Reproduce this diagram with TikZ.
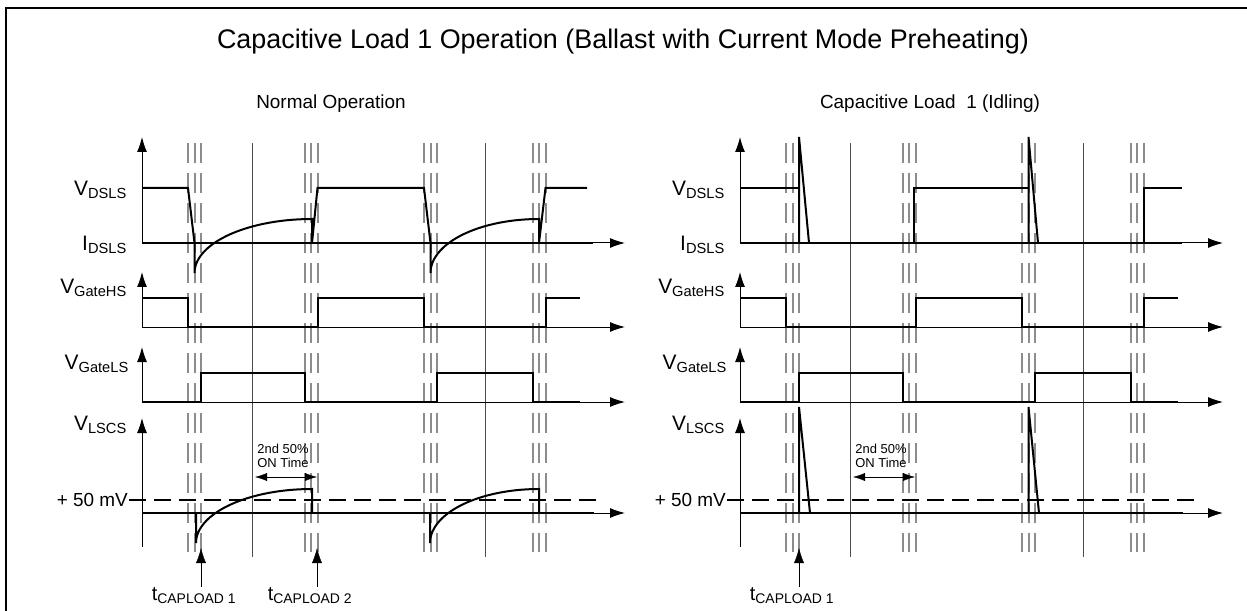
\documentclass[tikz,border=0pt]{standalone}
\usepackage{fontspec}
\setmainfont{Liberation Sans}
\usetikzlibrary{arrows.meta}
\begin{document}
\begin{tikzpicture}[x=1bp, y=-1bp, >={Latex[length=15bp,width=10bp]},
  sig/.style={line width=2bp},
  ax/.style={line width=1bp, ->},
  dead/.style={black!45, line width=2bp, dash pattern=on 20bp off 10bp},
  half/.style={black!70, line width=1bp},
  lvl/.style={line width=2bp, dash pattern=on 17bp off 8bp},
  lbl/.style={anchor=east, inner sep=1bp, font=\fontsize{21}{23}\selectfont},
  tlbl/.style={inner sep=1bp, font=\fontsize{20}{22}\selectfont},
  note/.style={align=center, inner sep=0pt, font=\fontsize{13}{14}\selectfont}]

\useasboundingbox (0,0) rectangle (1247,611);
\draw[line width=2bp] (6,611)--(6,8)--(1247,8);
\node[font=\fontsize{27}{29}\selectfont] (title) at (623,42) {Capacitive Load 1 Operation (Ballast with Current Mode Preheating)};
\node[font=\fontsize{19}{21}\selectfont] (normal) at (331,104) {Normal Operation};
\node[font=\fontsize{19}{21}\selectfont] (idling) at (930,104) {Capacitive Load\ \ 1 (Idling)};

\foreach \s/\n in {0/a,598/b}{
\begin{scope}[xshift=\s bp]
\foreach \xc in {194.5,311,430.5,539}
  \foreach \dx in {-6.5,0,6.5}
    \draw[dead] (\xc+\dx,143)--(\xc+\dx,552);
\foreach \xc in {252,485}
  \draw[half] (\xc,143)--(\xc,557);
\draw[ax] (142,243)--(142,137);
\draw[ax] (142,243)--(625,243);
\draw[ax] (142,327)--(142,272);
\draw[ax] (142,327)--(625,327);
\draw[ax] (142,402)--(142,347);
\draw[ax] (142,402)--(625,402);
\draw[ax] (142,547)--(142,418);
\draw[ax] (142,513)--(625,513);
\draw[sig] (142,298)--(188,298)--(188,327)--(317.5,327)--(317.5,298)--(424,298)--(424,327)--(545.5,327)--(545.5,298)--(580,298);
\draw[sig] (142,402)--(201,402)--(201,373)--(304.5,373)--(304.5,402)--(437,402)--(437,373)--(532.5,373)--(532.5,402)--(580,402);
\node[lbl] (vds\n) at (128,190) {V\textsubscript{DSLS}};
\node[lbl] (ids\n) at (128,245) {I\textsubscript{DSLS}};
\node[lbl] (vghs\n) at (128,288) {V\textsubscript{GateHS}};
\node[lbl] (vgls\n) at (130,364) {V\textsubscript{GateLS}};
\node[lbl] (vlscs\n) at (128,425) {V\textsubscript{LSCS}};
\node[lbl, font=\fontsize{19}{21}\selectfont] (mv\n) at (129,500) {+ 50 mV};
\draw[lvl] (mv\n.east)--++(467,0);
\node[note] (on\n) at (283,456) {2nd 50\%\\ON Time};
\coordinate (ona\n) at (255,477);
\coordinate (onb\n) at (317,477);
\draw[<->, >={Latex[length=12bp,width=8bp]}] (ona\n)--(onb\n);
\node[tlbl] (tca\n) at (194,596) {t\textsubscript{CAPLOAD 1}};
\coordinate (tpa\n) at (201,548);
\draw[->] (tca\n.north -| tpa\n)--(tpa\n);
\end{scope}}

\draw[sig] (142,243)--(593,243);
\draw[sig] (142,188)--(188,188)--(194.5,243)--(194.5,273)--plot[domain=0:90, samples=30] ({312-117.5*cos(\x)}, {273-54*sin(\x)})--(312,243)--(317.5,188)--(424,188)--(430.5,243)--(430.5,273)--plot[domain=0:90, samples=30] ({539-108.5*cos(\x)}, {273-54*sin(\x)})--(539,243)--(545.5,188)--(587,188);
\draw[sig] (142,513)--(594,513);
\draw[sig] (196,513)--(196,543)--plot[domain=0:90, samples=30] ({312-116*cos(\x)}, {543-54*sin(\x)})--(312,513);
\draw[sig] (430,513)--(430,543)--plot[domain=0:90, samples=30] ({539-109*cos(\x)}, {543-54*sin(\x)})--(539,513);
\node[tlbl] (tcb) at (310,596) {t\textsubscript{CAPLOAD 2}};
\coordinate (tpb) at (317,548);
\draw[->] (tcb.north -| tpb)--(tpb);

\begin{scope}[xshift=598bp]
\draw[sig] (142,243)--(584,243);
\draw[sig] (142,188)--(201,188);
\draw[sig] (201,243)--(201,137)--(211,243);
\draw[sig] (316,243)--(316,188)--(430.5,188);
\draw[sig] (430.5,243)--(430.5,137)--(440,243);
\draw[sig] (545.5,243)--(545.5,188)--(584,188);
\draw[sig] (142,513)--(585,513);
\draw[sig] (201,513)--(201,407)--(212,513);
\draw[sig] (430.5,513)--(430.5,407)--(441,513);
\end{scope}
\end{tikzpicture}
\end{document}
